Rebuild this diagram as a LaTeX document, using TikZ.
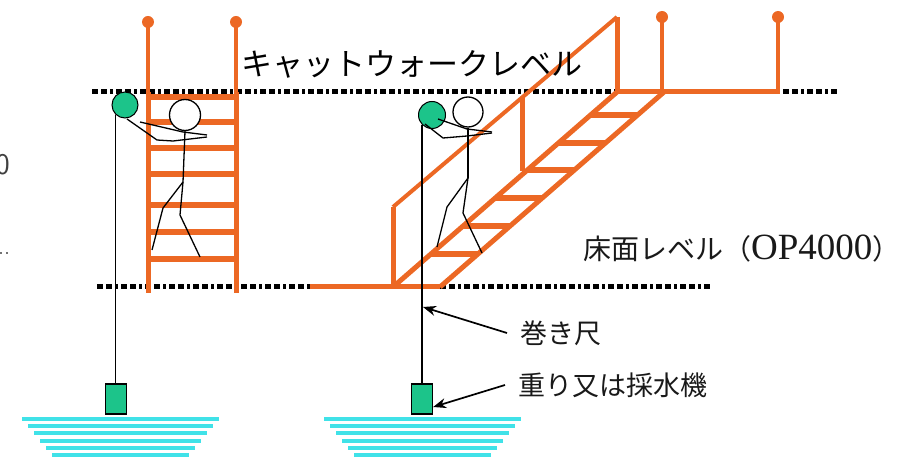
\documentclass[tikz,border=0pt]{standalone}
\usepackage{fontspec}
\setmainfont{Liberation Serif}
\newfontfamily\jpfont{Noto Sans CJK JP}
\usetikzlibrary{calc,arrows.meta}
\definecolor{railorange}{RGB}{236,104,36}
\definecolor{ballgreen}{RGB}{28,196,138}
\definecolor{watercyan}{RGB}{64,226,232}
\tikzset{
  levelline/.style={line width=5pt, dash pattern=on 6pt off 3pt on 6pt off 3pt on 3pt off 3pt},
  railline/.style={railorange, line width=5pt},
  poleline/.style={railorange, line width=3.5pt},
  stickman/.style={line width=1.3pt},
  ballnode/.style={circle, draw, line width=1pt, fill=ballgreen, minimum size=26pt, inner sep=0pt},
  headnode/.style={circle, draw, line width=1.3pt, fill=white, minimum size=31pt, inner sep=0pt},
  weightbox/.style={draw, line width=1.3pt, fill=ballgreen, minimum width=21pt, minimum height=30pt, inner sep=0pt},
  waterline/.style={watercyan, line width=4pt},
  leaderarrow/.style={line width=1.7pt, -{Stealth[length=13pt,width=10pt]}},
  jplabel/.style={font=\jpfont\fontsize{27}{27}\selectfont, text=black!90, inner xsep=13pt, inner ysep=0pt, anchor=west}
}
\begin{document}
\begin{tikzpicture}[x=1pt,y=-1pt]
		\useasboundingbox (0,0) rectangle (903,457);
		%%%%% LEVELS %%%%%
		\draw[levelline] (92,92) -- (615,92);
		\draw[levelline] (783,92) -- (838,92);
		\draw[levelline] (97,287) -- (310,287);
		\draw[levelline] (440,287) -- (710,287);
		
		\node[font=\sffamily\fontsize{30}{30}\selectfont, text=black!75, anchor=east, inner sep=0pt] (edgenum) at (10,165) {0};
		\draw[black!55, line width=1.5pt, dash pattern=on 2pt off 4pt] (0,253) -- (10,253);
		
		%%%%% LADDER %%%%%
		\foreach \x in {148,236}{
			\draw[poleline] (\x,22) -- (\x,92);
			\fill[railorange] (\x,22) circle (6);
			\draw[railline] (\x,92) -- (\x,293);
		}
		\foreach \y in {97,122,148,174,205,232,259}
			\draw[railline, line width=5.5pt] (148,\y) -- (236,\y);
		
		%%%%% CATWALK %%%%%
		\draw[railline] (617,92) -- (780,92);
		\foreach \x in {662,778}{
			\draw[poleline] (\x,17) -- (\x,92);
			\fill[railorange] (\x,17) circle (6);
		}
		
		%%%%% STAIR %%%%%
		\coordinate (hrA) at (393,207);
		\coordinate (hrB) at (617,17);
		\coordinate (sa0) at (393,287);
		\coordinate (sa1) at (617,92);
		\coordinate (sb0) at (440,287);
		\coordinate (sb1) at (664,92);
		\draw[railline] (310,287) -- (sb0);
		\draw[railline] (sa0) -- (hrA);
		\draw[railorange, line width=4pt] (hrA) -- (hrB);
		\draw[railline] (hrB) -- (sa1);
		\draw[railline] (sa0) -- (sa1);
		\draw[railline] (sb0) -- (sb1);
		\draw[railline] ($(hrA)!0.58!(hrB)$) -- ++(0,74);
		\foreach \t in {0.17,0.313,0.456,0.6,0.741,0.882}
			\draw[railorange, line width=6pt] ($(sa0)!\t!(sa1)$) -- ($(sb0)!\t!(sb1)$);
		
		%%%%% LEFT MAN %%%%%
		\node[headnode] (headL) at (185,115) {};
		\draw[stickman] (headL.south) -- (183,182) coordinate (hipL);
		\draw[stickman] (hipL) -- (163,208) -- (152,250);
		\draw[stickman] (hipL) -- (180,215) -- (200,257);
		\node[ballnode] (ballL) at (125,105) {};
		\draw[stickman] (127,119) -- (157,140) -- (173,141) -- (207,137);
		\draw[stickman] (140,122) -- (183,132) -- (207,135);
		\node[weightbox] (weightL) at (116,399) {};
		\draw[stickman] (ballL.225) -- (ballL.225 |- weightL.north);
		
		%%%%% RIGHT MAN %%%%%
		\node[headnode, minimum size=30pt] (headR) at (468,112) {};
		\draw[stickman] (headR.south) -- (468,178) coordinate (hipR);
		\draw[stickman] (hipR) -- (447,207) -- (437,247);
		\draw[stickman] (hipR) -- (463,213) -- (482,253);
		\node[ballnode, minimum size=27pt] (ballR) at (432,115) {};
		\draw[stickman] (425,124) -- (443,138) -- (467,136) -- (492,133);
		\draw[stickman] (438,119) -- (467,129) -- (492,132);
		\node[weightbox] (weightR) at (422,399) {};
		\draw[stickman] (ballR.225) -- (ballR.225 |- weightR.north);
		
		%%%%% WATER %%%%%
		\foreach \k in {0,...,5}{
			\draw[waterline] ({22+6*\k},{419+7.2*\k}) -- ({219-6*\k},{419+7.2*\k});
			\draw[waterline] ({324+6*\k},{419+7.2*\k}) -- ({521-6*\k},{419+7.2*\k});
		}
		
		%%%%% LABELS %%%%%
		\node[font=\jpfont\fontsize{31}{31}\selectfont] (catwalk) at (412,64) {キャットウォークレベル};
		\node[anchor=west, inner sep=0pt, text=black!90] (floor) at (583,249)
			{\jpfont\fontsize{28}{28}\selectfont 床面レベル（{\rmfamily\fontsize{37}{37}\selectfont OP4000}）};
		\node[jplabel] (tape) at (507,333) {巻き尺};
		\node[jplabel] (sampler) at (505,385) {重り又は採水機};
		\coordinate (tapetip) at (423,307);
		\draw[leaderarrow] (tape.west) -- (tapetip);
		\draw[leaderarrow] (sampler.west) -- ([yshift=-8pt]weightR.east);
	\end{tikzpicture}
\end{document}
